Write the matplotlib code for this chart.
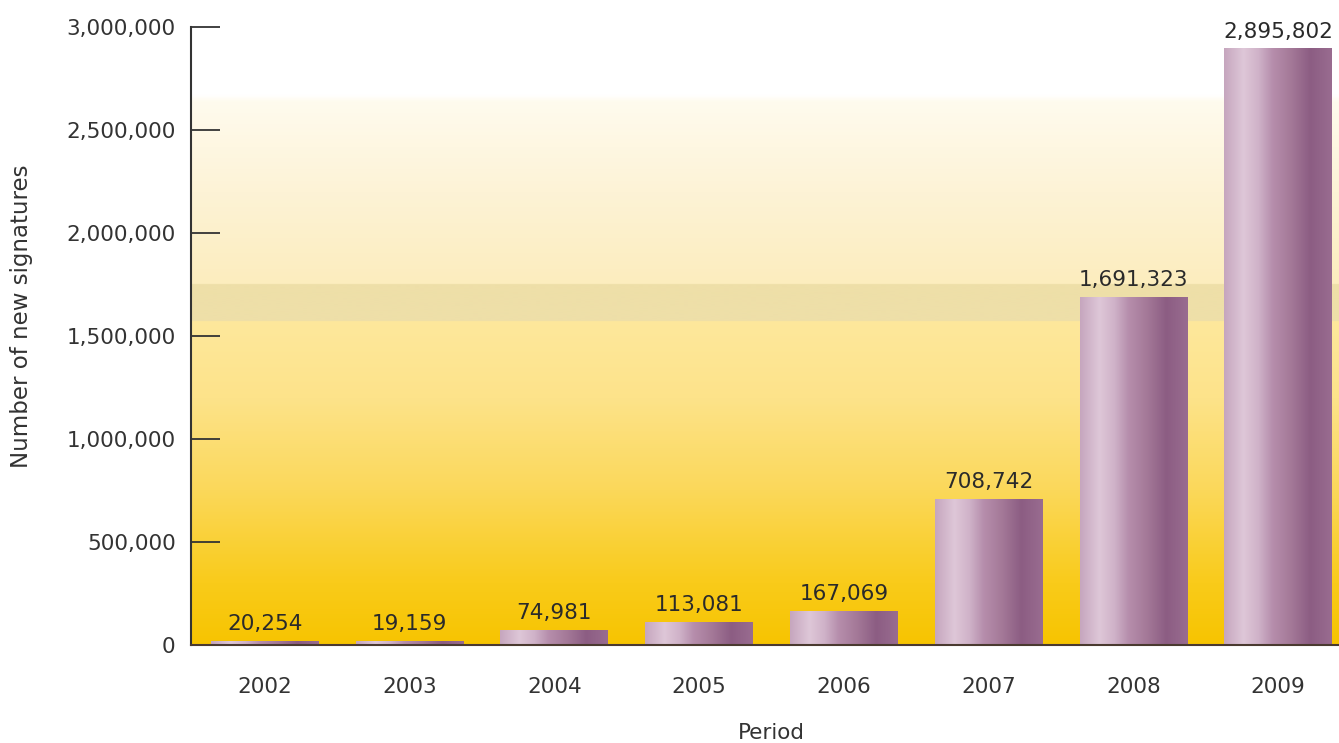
import numpy as np
import matplotlib
matplotlib.use("Agg")
import matplotlib.pyplot as plt
from matplotlib.colors import LinearSegmentedColormap, to_rgb

years = ["2002", "2003", "2004", "2005", "2006", "2007", "2008", "2009"]
values = [20254, 19159, 74981, 113081, 167069, 708742, 1691323, 2895802]
labels = ["20,254", "19,159", "74,981", "113,081", "167,069", "708,742", "1,691,323", "2,895,802"]
yticks = [0, 500000, 1000000, 1500000, 2000000, 2500000, 3000000]
yticklabels = ["0", "500,000", "1,000,000", "1,500,000", "2,000,000", "2,500,000", "3,000,000"]

plt.rcParams['font.family'] = ['DejaVu Sans']
fig = plt.figure(figsize=(13.39, 7.43), dpi=100)
ax = fig.add_axes([191/1339, 1-645/743, 1-191/1339, (645-27)/743])

xlim = (-0.51, 7.42)
ylim = (0, 3000000)
ax.set_xlim(*xlim)
ax.set_ylim(*ylim)

# background gradient (value -> color)
stops = [
    (0, "#F7C400"), (300000, "#F9CB1A"), (750000, "#FBD85A"), (1200000, "#FDE38A"),
    (1572000, "#FEE89C"), (1573000, "#EEDFA8"), (1752000, "#EEDFA8"), (1753000, "#FCEDBE"),
    (2200000, "#FDF3D6"), (2640000, "#FFFBEE"), (2670000, "#FFFFFF"), (3000000, "#FFFFFF"),
]
yy = np.linspace(0, 3000000, 1200)
sv = np.array([s[0] for s in stops], float)
sc = np.array([to_rgb(s[1]) for s in stops])
bg = np.stack([np.interp(yy, sv, sc[:, k]) for k in range(3)], axis=1)
ax.imshow(bg[:, None, :], extent=(xlim[0], xlim[1], 0, 3000000), origin="lower",
          aspect="auto", zorder=0, interpolation="bilinear")

# bar gradient
bar_cmap = LinearSegmentedColormap.from_list("bar", [
    (0.0, "#C6A6BE"), (0.18, "#DEC7D8"), (0.32, "#CFB2C8"), (0.45, "#B68EAC"),
    (0.62, "#A47998"), (0.8, "#8C5D83"), (1.0, "#996C90")])
grad = np.linspace(0, 1, 256)[None, :]
width = 0.745
x = np.arange(len(years))
bars = ax.bar(x, values, width=width, color="none", zorder=2)
for b in bars:
    im = ax.imshow(grad, cmap=bar_cmap, extent=(b.get_x(), b.get_x()+b.get_width(), 0, b.get_height()),
                   aspect="auto", zorder=2, origin="lower")
    im.set_clip_path(b)

ax.set_xlim(*xlim)
ax.set_ylim(*ylim)

for xi, v, lab in zip(x, values, labels):
    ax.annotate(lab, (xi, v), xytext=(0, 5), textcoords="offset points", ha="center", va="bottom",
                fontsize=15.5, color="#2a2a2a", zorder=3)

ax.set_xticks(x)
ax.set_xticklabels(years, fontsize=15.5, color="#333333")
ax.set_yticks(yticks)
ax.set_yticklabels(yticklabels, fontsize=15.5, color="#333333")
ax.tick_params(axis="y", direction="in", length=21, width=1.3, color="#333333", pad=11)
ax.tick_params(axis="x", length=0, pad=23)
for s in ["top", "right"]:
    ax.spines[s].set_visible(False)
ax.spines["left"].set_color("#333333")
ax.spines["left"].set_linewidth(1.5)
ax.spines["bottom"].set_color("#4a3a30")
ax.spines["bottom"].set_linewidth(1.5)

fig.text(22/1339, 1-316/743, "Number of new signatures", rotation=90, ha="center", va="center",
         fontsize=16.5, color="#333333")
fig.text(771/1339, 1-733/743, "Period", ha="center", va="center", fontsize=15.5, color="#333333")

fig.savefig("out.png", dpi=100)
